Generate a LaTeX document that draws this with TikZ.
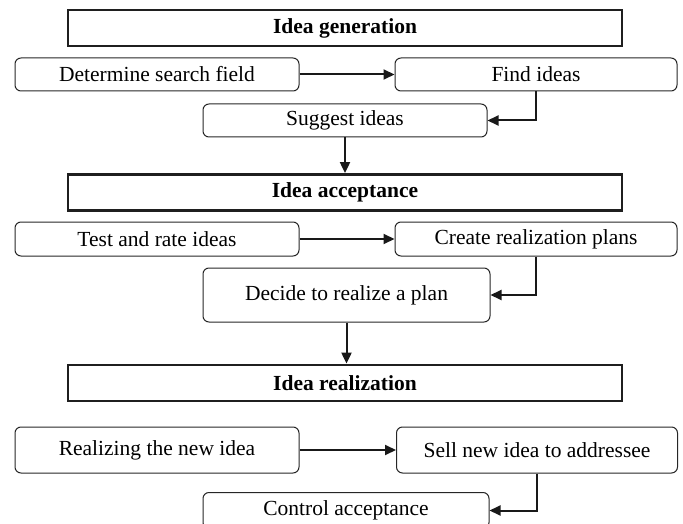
\documentclass[tikz,border=0pt]{standalone}
\usepackage{fontspec}
\setmainfont{Liberation Serif}
\usetikzlibrary{arrows.meta}
\begin{document}
\begin{tikzpicture}[x=1pt,y=-1pt,
 hdr/.style={draw=black!88, line width=2.8pt, minimum width=554pt, minimum height=36pt, inner sep=0pt, font=\fontsize{21.5}{24}\selectfont\bfseries},
 rbox/.style={draw=black!85, line width=1pt, rounded corners=6pt, inner sep=0pt, font=\fontsize{21.5}{24}\selectfont},
 conn/.style={draw=black!90, line width=2pt, -{Triangle[length=11pt,width=10pt]}}]
\useasboundingbox (0,0) rectangle (683,524);
\clip (0,0) rectangle (683,524);
% stage 1
\node[hdr] (h1) at (345,28) {Idea generation};
\node[rbox, minimum width=284pt, minimum height=33pt] (a1) at (157,74.5) {Determine search field};
\node[rbox, minimum width=282pt, minimum height=33pt] (b1) at (536,74.5) {Find ideas};
\node[rbox, minimum width=284pt, minimum height=33pt] (c1) at (345,120.5) {Suggest ideas};
% stage 2
\node[hdr] (h2) at (345,192.5) {Idea acceptance};
\node[rbox, minimum width=284pt, minimum height=34pt] (a2) at (157,239) {Test and rate ideas};
\node[rbox, minimum width=282pt, minimum height=34pt] (b2) at (536,239) {Create realization plans};
\node[rbox, minimum width=287pt, minimum height=54pt] (c2) at (346.5,295) {Decide to realize a plan};
% stage 3
\node[hdr] (h3) at (345,383) {Idea realization};
\node[rbox, minimum width=284pt, minimum height=46pt] (a3) at (157,450) {Realizing the new idea};
\node[rbox, minimum width=281pt, minimum height=46pt] (b3) at (537,450) {Sell new idea to addressee};
\node[rbox, minimum width=286pt, minimum height=36pt] (c3) at (346,510.5) {Control acceptance};
% connectors
\draw[conn] (a1.east) -- (b1.west);
\draw[conn] (b1.south) |- (c1.east);
\draw[conn] (c1.south) -- (c1.south |- h2.north);
\draw[conn] (a2.east) -- (b2.west);
\draw[conn] (b2.south) |- (c2.east);
\draw[conn] (c2.south) -- (c2.south |- h3.north);
\draw[conn] (a3.east) -- (b3.west);
\draw[conn] (b3.south) |- (c3.east);
\end{tikzpicture}
\end{document}
